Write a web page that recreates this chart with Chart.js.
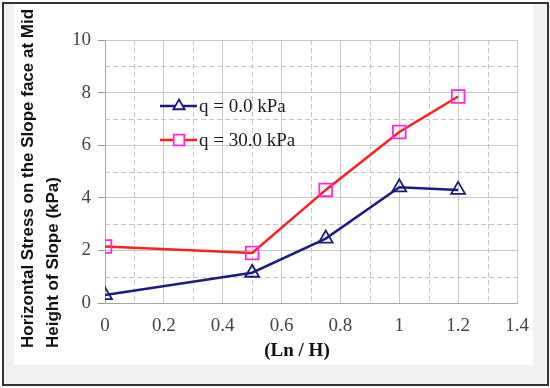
<!DOCTYPE html>
<html>
<head>
<meta charset="utf-8">
<script src="https://cdn.jsdelivr.net/npm/chart.js@4"></script>
<style>
  html, body { margin: 0; padding: 0; background: #fff; }
  #frame { position: absolute; left: 2px; top: 2px; width: 543px; height: 380px;
           border: 2px solid #333; background: #f1f1f1; }
  #paper { position: absolute; left: 14px; top: 4px; width: 519px; height: 361px; background: #fff; }
  #wrap { position: absolute; left: 0; top: 0; width: 550px; height: 388px; }
</style>
</head>
<body>
<div id="frame"></div>
<div id="paper"></div>
<div id="wrap"><canvas id="chart" width="550" height="388"></canvas></div>
<script>
// data
const lnH = [0, 0.5, 0.75, 1, 1.2];
const stressQ0 = [0.3, 1.15, 2.45, 4.4, 4.3];
const stressQ30 = [2.15, 1.9, 4.3, 6.5, 7.85];
const seriesNames = ['q = 0.0 kPa', 'q = 30.0 kPa'];
const xTicks = [0, 0.2, 0.4, 0.6, 0.8, 1, 1.2, 1.4];
const yTicks = [0, 2, 4, 6, 8, 10];
const yTitle = ['Horizontal Stress on the Slope face at Mid', 'Height of Slope (kPa)'];
const xTitle = '(Ln / H)';

const blue = '#1c1c7e';
const red = '#ff1f1f';
const magenta = '#ff2ad4';
const gridCol = '#c6c6c6';
const serif = '"Liberation Serif", "Times New Roman", serif';

function pts(ys) { return lnH.map((x, i) => ({ x: x, y: ys[i] })); }

// dashed minor grid lines at the half steps
const minorGrid = {
  id: 'minorGrid',
  beforeDatasetsDraw(chart) {
    const { ctx, chartArea: a, scales: { x, y } } = chart;
    ctx.save();
    ctx.strokeStyle = gridCol;
    ctx.lineWidth = 1;
    ctx.setLineDash([5, 3]);
    for (let v = 0.1; v < 1.4; v += 0.2) {
      const px = Math.round(x.getPixelForValue(v)) + 0.5;
      ctx.beginPath(); ctx.moveTo(px, a.top); ctx.lineTo(px, a.bottom); ctx.stroke();
    }
    for (let v = 1; v < 10; v += 2) {
      const py = Math.round(y.getPixelForValue(v)) + 0.5;
      ctx.beginPath(); ctx.moveTo(a.left, py); ctx.lineTo(a.right, py); ctx.stroke();
    }
    ctx.restore();
  }
};

// axis titles and in-plot legend
const labels = {
  id: 'labels',
  afterDraw(chart) {
    const { ctx } = chart;
    ctx.save();
    ctx.fillStyle = '#111';
    ctx.font = 'bold 17px "Liberation Sans", Arial, sans-serif';
    ctx.textBaseline = 'middle';
    ctx.textAlign = 'left';
    ctx.save();
    ctx.translate(28, 348);
    ctx.rotate(-Math.PI / 2);
    ctx.fillText(yTitle[0], 0, 0);
    ctx.fillText(yTitle[1], 0, 25);
    ctx.restore();

    ctx.font = 'bold 19px ' + serif;
    ctx.textAlign = 'center';
    ctx.fillText(xTitle, 297, 351);

    // legend
    ctx.font = '19px ' + serif;
    ctx.textAlign = 'left';
    chart.data.datasets.forEach((ds, i) => {
      const ly = 106 + i * 34;
      ctx.strokeStyle = ds.borderColor;
      ctx.lineWidth = 2.5;
      ctx.beginPath(); ctx.moveTo(160, ly); ctx.lineTo(197, ly); ctx.stroke();
      ctx.strokeStyle = ds.pointBorderColor;
      ctx.fillStyle = '#fff';
      ctx.lineWidth = ds.pointBorderWidth;
      Chart.helpers.drawPoint(ctx, {
        pointStyle: ds.pointStyle, radius: ds.pointRadius - 1.5, borderWidth: ds.pointBorderWidth, rotation: 0
      }, 179, ly);
      ctx.fillStyle = '#1a1a1a';
      ctx.fillText(seriesNames[i], 199, ly + 1);
    });
    ctx.restore();
  }
};

new Chart(document.getElementById('chart'), {
  type: 'scatter',
  data: {
    datasets: [
      {
        label: seriesNames[0], data: pts(stressQ0), showLine: true,
        borderColor: blue, borderWidth: 2.5,
        pointStyle: 'triangle', pointRadius: 8, pointBorderWidth: 1.8,
        pointBorderColor: blue, pointBackgroundColor: 'rgba(255,255,255,0)'
      },
      {
        label: seriesNames[1], data: pts(stressQ30), showLine: true,
        borderColor: red, borderWidth: 2.5,
        pointStyle: 'rect', pointRadius: 9, pointBorderWidth: 1.8,
        pointBorderColor: magenta, pointBackgroundColor: 'rgba(255,255,255,0)'
      }
    ]
  },
  options: {
    responsive: false,
    animation: false,
    devicePixelRatio: 1,
    layout: { padding: { left: 0, right: 33, top: 40, bottom: 0 } },
    plugins: { legend: { display: false }, tooltip: { enabled: false } },
    scales: {
      x: {
        type: 'linear', min: 0, max: 1.4,
        afterBuildTicks(s) { s.ticks = xTicks.map(v => ({ value: v })); },
        afterFit(s) { s.height = 85; },
        grid: { color: gridCol, lineWidth: 1, tickLength: 0 },
        border: { color: '#a8a8a8', width: 1 },
        ticks: {
          padding: 12, color: '#444', minRotation: 0, maxRotation: 0,
          font: { family: serif, size: 19 },
          callback: v => String(Math.round(v * 10) / 10)
        }
      },
      y: {
        min: 0, max: 10,
        afterBuildTicks(s) { s.ticks = yTicks.map(v => ({ value: v })); },
        afterFit(s) { s.width = 105; },
        grid: { color: gridCol, lineWidth: 1, tickLength: 7, tickColor: '#999' },
        border: { color: '#a8a8a8', width: 1 },
        ticks: {
          padding: 7, color: '#444',
          font: { family: serif, size: 19 }
        }
      }
    }
  },
  plugins: [minorGrid, labels]
});
</script>
</body>
</html>
